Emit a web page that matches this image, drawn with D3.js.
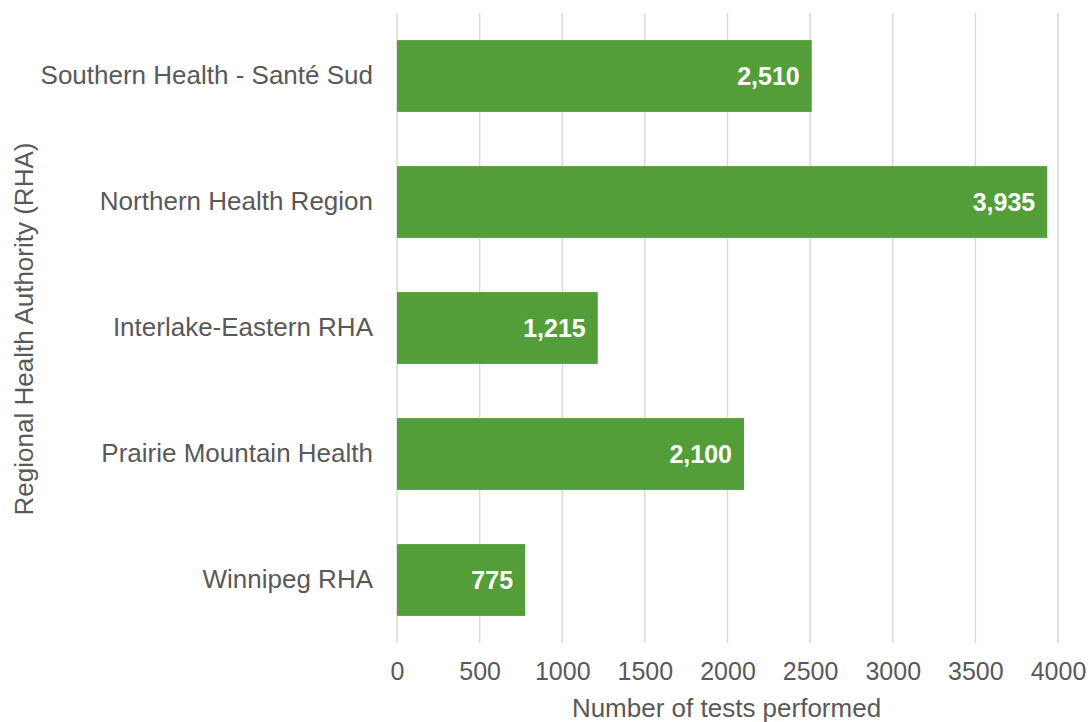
<!DOCTYPE html>
<html>
<head>
<meta charset="utf-8">
<script src="https://cdn.jsdelivr.net/npm/d3@7"></script>
<style>
  body { margin: 0; background: #fff; }
  svg { display: block; }
  text { font-family: "Liberation Sans", Arial, sans-serif; }
</style>
</head>
<body>
<svg id="chart" width="1091" height="722"></svg>
<script>
const categories = ["Southern Health - Santé Sud", "Northern Health Region", "Interlake-Eastern RHA", "Prairie Mountain Health", "Winnipeg RHA"];
const values = [2510, 3935, 1215, 2100, 775];
const tickValues = [0, 500, 1000, 1500, 2000, 2500, 3000, 3500, 4000];
const xTitle = "Number of tests performed";
const yTitle = "Regional Health Authority (RHA)";

const svg = d3.select("#chart");
const margin = { left: 397, right: 1091 - 1058, top: 13, bottom: 722 - 643 };
const W = 1091, H = 722;

const x = d3.scaleLinear().domain([0, 4000]).range([margin.left, W - margin.right]);
const y = d3.scaleBand().domain(categories).range([margin.top, H - margin.bottom]).paddingInner(0.43).paddingOuter(0.215);

// gridlines
svg.append("g").selectAll("line").data(tickValues).join("line")
  .attr("x1", d => x(d)).attr("x2", d => x(d))
  .attr("y1", margin.top).attr("y2", H - margin.bottom)
  .attr("stroke", "#d9d9d9").attr("stroke-width", 1.5);

// bars
svg.append("g").selectAll("rect").data(values).join("rect")
  .attr("x", x(0))
  .attr("y", (d, i) => y(categories[i]))
  .attr("width", d => x(d) - x(0))
  .attr("height", y.bandwidth())
  .attr("fill", "#549e39");

// value labels
const fmt = d3.format(",");
svg.append("g").selectAll("text").data(values).join("text")
  .attr("x", d => x(d) - 12)
  .attr("y", (d, i) => y(categories[i]) + y.bandwidth() / 2)
  .attr("dy", "0.35em")
  .attr("text-anchor", "end")
  .attr("fill", "#fff")
  .attr("font-weight", "bold")
  .attr("font-size", 25)
  .text(d => fmt(d));

// y axis category labels
const yAxis = d3.axisLeft(y).tickSize(0).tickPadding(24);
const gy = svg.append("g").attr("transform", `translate(${margin.left},0)`).call(yAxis);
gy.select(".domain").remove();
gy.selectAll("text").attr("font-size", 26).attr("fill", "#595959").attr("font-family", "Liberation Sans, Arial, sans-serif");

// x axis tick labels
const xAxis = d3.axisBottom(x).tickValues(tickValues).tickSize(0).tickPadding(19).tickFormat(d3.format("d"));
const gx = svg.append("g").attr("transform", `translate(0,${H - margin.bottom})`).call(xAxis);
gx.select(".domain").remove();
gx.selectAll("text").attr("font-size", 25).attr("fill", "#595959").attr("font-family", "Liberation Sans, Arial, sans-serif");

// axis titles
svg.append("text")
  .attr("x", (x(0) + x(4000)) / 2 - 1)
  .attr("y", 708)
  .attr("dy", "0.35em")
  .attr("text-anchor", "middle")
  .attr("font-size", 26)
  .attr("fill", "#595959")
  .text(xTitle);

svg.append("text")
  .attr("transform", `translate(24,${(margin.top + H - margin.bottom) / 2 + 1}) rotate(-90)`)
  .attr("dy", "0.35em")
  .attr("text-anchor", "middle")
  .attr("font-size", 26)
  .attr("fill", "#595959")
  .text(yTitle);
</script>
</body>
</html>
